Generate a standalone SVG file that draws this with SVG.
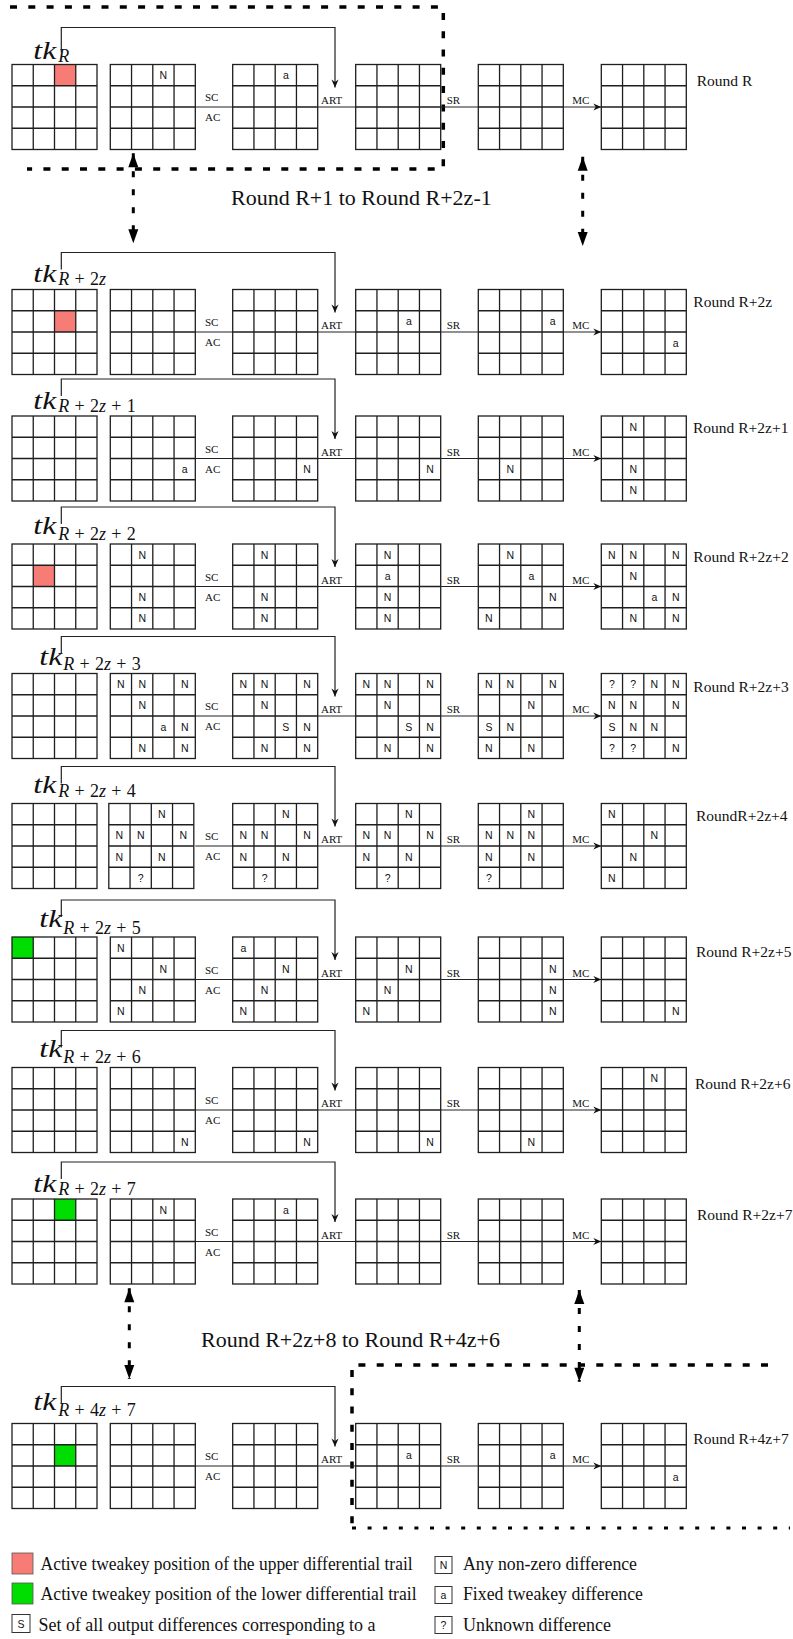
<svg xmlns="http://www.w3.org/2000/svg" width="793" height="1639" viewBox="0 0 793 1639">
<style>
.bg{fill:#fff}
.gl{fill:none;stroke:#1e1e1e;stroke-width:1.3}
.c{font-family:"Liberation Sans",Arial,sans-serif;font-size:10.5px;text-anchor:middle;fill:#111}
.op{font-family:"Liberation Serif","Times New Roman",serif;font-size:11px;fill:#111}
.opm{font-family:"Liberation Serif","Times New Roman",serif;font-size:11px;fill:#111;text-anchor:middle}
.rl{font-family:"Liberation Serif","Times New Roman",serif;font-size:15.5px;fill:#111}
.big{font-family:"Liberation Serif","Times New Roman",serif;font-size:22px;fill:#111}
.tk{font-family:"Liberation Serif","Times New Roman",serif;font-style:italic;font-size:25px;fill:#111}
.sub{font-family:"Liberation Serif","Times New Roman",serif;font-size:18px;fill:#111}
.it{font-style:italic}
.red{fill:#f87c76}
.grn{fill:#00dd00}
.arr{fill:none;stroke:#222;stroke-width:1.2;marker-end:url(#st)}
.tkl{fill:none;stroke:#222;stroke-width:1.2;marker-end:url(#st)}
.dash{fill:none;stroke:#000;stroke-width:3.5;stroke-dasharray:7 11.3}
.dot{fill:none;stroke:#000;stroke-width:3;stroke-dasharray:4 11.6}
.dv{fill:none;stroke:#000;stroke-width:3;stroke-dasharray:6 12;marker-start:url(#tri);marker-end:url(#tri)}
.lg{font-family:"Liberation Serif","Times New Roman",serif;font-size:18px;fill:#111}
.lbox{fill:#fff;stroke:#333;stroke-width:1}
.lsq{stroke:#555;stroke-width:0.8}
</style>
<defs>
<g id="grid"><rect class="gl" x="0" y="0" width="85" height="85"/><path class="gl" d="M21.25,0V85M42.5,0V85M63.75,0V85M0,21.25H85M0,42.5H85M0,63.75H85"/></g>
<marker id="st" viewBox="-9 -5 10 10" refX="0" refY="0" markerWidth="10" markerHeight="10" markerUnits="userSpaceOnUse" orient="auto"><path d="M0,0 L-8,-3.6 L-5.5,0 L-8,3.6 Z" fill="#111"/></marker>
<marker id="tri" viewBox="-15 -6 16 12" refX="0" refY="0" markerWidth="16" markerHeight="12" markerUnits="userSpaceOnUse" orient="auto-start-reverse"><path d="M-14,-5 L0,0 L-14,5 Z" fill="#000"/></marker>
</defs>
<rect class="bg" x="0" y="0" width="793" height="1639"/>

<!-- Row R -->
<g id="row-R">
<g id="R-tk"><text class="tk" x="33.3" y="59.3" textLength="23" lengthAdjust="spacingAndGlyphs">tk</text><text class="sub" x="58.3" y="62.3"><tspan class="it">R</tspan></text></g>
<g id="R-s1"><rect class="red" x="54.5" y="64.5" width="21.25" height="21.25"/><use href="#grid" x="12" y="64.5"/></g>
<g id="R-s2"><use href="#grid" x="110.3" y="64.5"/><text class="c" x="163.4" y="79.1">N</text></g>
<g id="R-s3"><use href="#grid" x="232.7" y="64.5"/><text class="c" x="285.8" y="79.1">a</text></g>
<g id="R-s4"><use href="#grid" x="355.7" y="64.5"/></g>
<g id="R-s5"><use href="#grid" x="478.3" y="64.5"/></g>
<g id="R-s6"><use href="#grid" x="601.3" y="64.5"/></g>
<text class="rl" x="696.7" y="85.5">Round R</text>
</g>

<!-- Row R+2z -->
<g id="row-R2z">
<g id="R2z-tk"><text class="tk" x="33.3" y="281.7" textLength="23" lengthAdjust="spacingAndGlyphs">tk</text><text class="sub" x="58.3" y="285"><tspan class="it">R</tspan><tspan dx="5.3">+</tspan><tspan dx="5.3">2</tspan><tspan class="it">z</tspan></text></g>
<g id="R2z-s1"><rect class="red" x="54.5" y="310.75" width="21.25" height="21.25"/><use href="#grid" x="12" y="289.5"/></g>
<g id="R2z-s2"><use href="#grid" x="110.3" y="289.5"/></g>
<g id="R2z-s3"><use href="#grid" x="232.7" y="289.5"/></g>
<g id="R2z-s4"><use href="#grid" x="355.7" y="289.5"/><text class="c" x="408.8" y="325.35">a</text></g>
<g id="R2z-s5"><use href="#grid" x="478.3" y="289.5"/><text class="c" x="552.7" y="325.35">a</text></g>
<g id="R2z-s6"><use href="#grid" x="601.3" y="289.5"/><text class="c" x="675.7" y="346.6">a</text></g>
<text class="rl" x="693.3" y="307">Round R+2z</text>
</g>

<!-- Row R+2z+1 -->
<g id="row-R2z1">
<g id="R2z1-tk"><text class="tk" x="33.3" y="408.5" textLength="23" lengthAdjust="spacingAndGlyphs">tk</text><text class="sub" x="58.3" y="412"><tspan class="it">R</tspan><tspan dx="5.3">+</tspan><tspan dx="5.3">2</tspan><tspan class="it">z</tspan><tspan dx="5.3">+</tspan><tspan dx="5.3">1</tspan></text></g>
<g id="R2z1-s1"><use href="#grid" x="12" y="416"/></g>
<g id="R2z1-s2"><use href="#grid" x="110.3" y="416"/><text class="c" x="184.7" y="473.1">a</text></g>
<g id="R2z1-s3"><use href="#grid" x="232.7" y="416"/><text class="c" x="307.1" y="473.1">N</text></g>
<g id="R2z1-s4"><use href="#grid" x="355.7" y="416"/><text class="c" x="430.1" y="473.1">N</text></g>
<g id="R2z1-s5"><use href="#grid" x="478.3" y="416"/><text class="c" x="510.2" y="473.1">N</text></g>
<g id="R2z1-s6"><use href="#grid" x="601.3" y="416"/><text class="c" x="633.2" y="430.6">N</text><text class="c" x="633.2" y="473.1">N</text><text class="c" x="633.2" y="494.35">N</text></g>
<text class="rl" x="693" y="433">Round R+2z+1</text>
</g>

<!-- Row R+2z+2 -->
<g id="row-R2z2">
<g id="R2z2-tk"><text class="tk" x="33.3" y="534.3" textLength="23" lengthAdjust="spacingAndGlyphs">tk</text><text class="sub" x="58.3" y="540"><tspan class="it">R</tspan><tspan dx="5.3">+</tspan><tspan dx="5.3">2</tspan><tspan class="it">z</tspan><tspan dx="5.3">+</tspan><tspan dx="5.3">2</tspan></text></g>
<g id="R2z2-s1"><rect class="red" x="33.25" y="565.25" width="21.25" height="21.25"/><use href="#grid" x="12" y="544"/></g>
<g id="R2z2-s2"><use href="#grid" x="110.3" y="544"/><text class="c" x="142.2" y="558.6">N</text><text class="c" x="142.2" y="601.1">N</text><text class="c" x="142.2" y="622.35">N</text></g>
<g id="R2z2-s3"><use href="#grid" x="232.7" y="544"/><text class="c" x="264.6" y="558.6">N</text><text class="c" x="264.6" y="601.1">N</text><text class="c" x="264.6" y="622.35">N</text></g>
<g id="R2z2-s4"><use href="#grid" x="355.7" y="544"/><text class="c" x="387.6" y="558.6">N</text><text class="c" x="387.6" y="579.85">a</text><text class="c" x="387.6" y="601.1">N</text><text class="c" x="387.6" y="622.35">N</text></g>
<g id="R2z2-s5"><use href="#grid" x="478.3" y="544"/><text class="c" x="510.2" y="558.6">N</text><text class="c" x="531.4" y="579.85">a</text><text class="c" x="552.7" y="601.1">N</text><text class="c" x="488.9" y="622.35">N</text></g>
<g id="R2z2-s6"><use href="#grid" x="601.3" y="544"/><text class="c" x="611.9" y="558.6">N</text><text class="c" x="633.2" y="558.6">N</text><text class="c" x="675.7" y="558.6">N</text><text class="c" x="633.2" y="579.85">N</text><text class="c" x="654.4" y="601.1">a</text><text class="c" x="675.7" y="601.1">N</text><text class="c" x="633.2" y="622.35">N</text><text class="c" x="675.7" y="622.35">N</text></g>
<text class="rl" x="693.3" y="562">Round R+2z+2</text>
</g>

<!-- Row R+2z+3 -->
<g id="row-R2z3">
<g id="R2z3-tk"><text class="tk" x="39.3" y="665" textLength="23" lengthAdjust="spacingAndGlyphs">tk</text><text class="sub" x="63.3" y="670"><tspan class="it">R</tspan><tspan dx="5.3">+</tspan><tspan dx="5.3">2</tspan><tspan class="it">z</tspan><tspan dx="5.3">+</tspan><tspan dx="5.3">3</tspan></text></g>
<g id="R2z3-s1"><use href="#grid" x="12" y="673.5"/></g>
<g id="R2z3-s2"><use href="#grid" x="110.3" y="673.5"/><text class="c" x="120.9" y="688.1">N</text><text class="c" x="142.2" y="688.1">N</text><text class="c" x="184.7" y="688.1">N</text><text class="c" x="142.2" y="709.35">N</text><text class="c" x="163.4" y="730.6">a</text><text class="c" x="184.7" y="730.6">N</text><text class="c" x="142.2" y="751.85">N</text><text class="c" x="184.7" y="751.85">N</text></g>
<g id="R2z3-s3"><use href="#grid" x="232.7" y="673.5"/><text class="c" x="243.3" y="688.1">N</text><text class="c" x="264.6" y="688.1">N</text><text class="c" x="307.1" y="688.1">N</text><text class="c" x="264.6" y="709.35">N</text><text class="c" x="285.8" y="730.6">S</text><text class="c" x="307.1" y="730.6">N</text><text class="c" x="264.6" y="751.85">N</text><text class="c" x="307.1" y="751.85">N</text></g>
<g id="R2z3-s4"><use href="#grid" x="355.7" y="673.5"/><text class="c" x="366.3" y="688.1">N</text><text class="c" x="387.6" y="688.1">N</text><text class="c" x="430.1" y="688.1">N</text><text class="c" x="387.6" y="709.35">N</text><text class="c" x="408.8" y="730.6">S</text><text class="c" x="430.1" y="730.6">N</text><text class="c" x="387.6" y="751.85">N</text><text class="c" x="430.1" y="751.85">N</text></g>
<g id="R2z3-s5"><use href="#grid" x="478.3" y="673.5"/><text class="c" x="488.9" y="688.1">N</text><text class="c" x="510.2" y="688.1">N</text><text class="c" x="552.7" y="688.1">N</text><text class="c" x="531.4" y="709.35">N</text><text class="c" x="488.9" y="730.6">S</text><text class="c" x="510.2" y="730.6">N</text><text class="c" x="488.9" y="751.85">N</text><text class="c" x="531.4" y="751.85">N</text></g>
<g id="R2z3-s6"><use href="#grid" x="601.3" y="673.5"/><text class="c" x="611.9" y="688.1">?</text><text class="c" x="633.2" y="688.1">?</text><text class="c" x="654.4" y="688.1">N</text><text class="c" x="675.7" y="688.1">N</text><text class="c" x="611.9" y="709.35">N</text><text class="c" x="633.2" y="709.35">N</text><text class="c" x="675.7" y="709.35">N</text><text class="c" x="611.9" y="730.6">S</text><text class="c" x="633.2" y="730.6">N</text><text class="c" x="654.4" y="730.6">N</text><text class="c" x="611.9" y="751.85">?</text><text class="c" x="633.2" y="751.85">?</text><text class="c" x="675.7" y="751.85">N</text></g>
<text class="rl" x="693.3" y="691.5">Round R+2z+3</text>
</g>

<!-- Row R+2z+4 -->
<g id="row-R2z4">
<g id="R2z4-tk"><text class="tk" x="33.3" y="793.3" textLength="23" lengthAdjust="spacingAndGlyphs">tk</text><text class="sub" x="58.3" y="797.3"><tspan class="it">R</tspan><tspan dx="5.3">+</tspan><tspan dx="5.3">2</tspan><tspan class="it">z</tspan><tspan dx="5.3">+</tspan><tspan dx="5.3">4</tspan></text></g>
<g id="R2z4-s1"><use href="#grid" x="12" y="803.5"/></g>
<g id="R2z4-s2"><use href="#grid" x="108.8" y="803.5"/><text class="c" x="161.9" y="818.1">N</text><text class="c" x="119.4" y="839.35">N</text><text class="c" x="140.7" y="839.35">N</text><text class="c" x="183.2" y="839.35">N</text><text class="c" x="119.4" y="860.6">N</text><text class="c" x="161.9" y="860.6">N</text><text class="c" x="140.7" y="881.85">?</text></g>
<g id="R2z4-s3"><use href="#grid" x="232.7" y="803.5"/><text class="c" x="285.8" y="818.1">N</text><text class="c" x="243.3" y="839.35">N</text><text class="c" x="264.6" y="839.35">N</text><text class="c" x="307.1" y="839.35">N</text><text class="c" x="243.3" y="860.6">N</text><text class="c" x="285.8" y="860.6">N</text><text class="c" x="264.6" y="881.85">?</text></g>
<g id="R2z4-s4"><use href="#grid" x="355.7" y="803.5"/><text class="c" x="408.8" y="818.1">N</text><text class="c" x="366.3" y="839.35">N</text><text class="c" x="387.6" y="839.35">N</text><text class="c" x="430.1" y="839.35">N</text><text class="c" x="366.3" y="860.6">N</text><text class="c" x="408.8" y="860.6">N</text><text class="c" x="387.6" y="881.85">?</text></g>
<g id="R2z4-s5"><use href="#grid" x="478.3" y="803.5"/><text class="c" x="531.4" y="818.1">N</text><text class="c" x="488.9" y="839.35">N</text><text class="c" x="510.2" y="839.35">N</text><text class="c" x="531.4" y="839.35">N</text><text class="c" x="488.9" y="860.6">N</text><text class="c" x="531.4" y="860.6">N</text><text class="c" x="488.9" y="881.85">?</text></g>
<g id="R2z4-s6"><use href="#grid" x="601.3" y="803.5"/><text class="c" x="611.9" y="818.1">N</text><text class="c" x="654.4" y="839.35">N</text><text class="c" x="633.2" y="860.6">N</text><text class="c" x="611.9" y="881.85">N</text></g>
<text class="rl" x="696" y="820.5">RoundR+2z+4</text>
</g>

<!-- Row R+2z+5 -->
<g id="row-R2z5">
<g id="R2z5-tk"><text class="tk" x="39.3" y="926.7" textLength="23" lengthAdjust="spacingAndGlyphs">tk</text><text class="sub" x="63.3" y="934"><tspan class="it">R</tspan><tspan dx="5.3">+</tspan><tspan dx="5.3">2</tspan><tspan class="it">z</tspan><tspan dx="5.3">+</tspan><tspan dx="5.3">5</tspan></text></g>
<g id="R2z5-s1"><rect class="grn" x="12" y="937" width="21.25" height="21.25"/><use href="#grid" x="12" y="937"/></g>
<g id="R2z5-s2"><use href="#grid" x="110.3" y="937"/><text class="c" x="120.9" y="951.6">N</text><text class="c" x="163.4" y="972.85">N</text><text class="c" x="142.2" y="994.1">N</text><text class="c" x="120.9" y="1015.35">N</text></g>
<g id="R2z5-s3"><use href="#grid" x="232.7" y="937"/><text class="c" x="243.3" y="951.6">a</text><text class="c" x="285.8" y="972.85">N</text><text class="c" x="264.6" y="994.1">N</text><text class="c" x="243.3" y="1015.35">N</text></g>
<g id="R2z5-s4"><use href="#grid" x="355.7" y="937"/><text class="c" x="408.8" y="972.85">N</text><text class="c" x="387.6" y="994.1">N</text><text class="c" x="366.3" y="1015.35">N</text></g>
<g id="R2z5-s5"><use href="#grid" x="478.3" y="937"/><text class="c" x="552.7" y="972.85">N</text><text class="c" x="552.7" y="994.1">N</text><text class="c" x="552.7" y="1015.35">N</text></g>
<g id="R2z5-s6"><use href="#grid" x="601.3" y="937"/><text class="c" x="675.7" y="1015.35">N</text></g>
<text class="rl" x="696" y="957">Round R+2z+5</text>
</g>

<!-- Row R+2z+6 -->
<g id="row-R2z6">
<g id="R2z6-tk"><text class="tk" x="39.3" y="1056.7" textLength="23" lengthAdjust="spacingAndGlyphs">tk</text><text class="sub" x="63.3" y="1063.3"><tspan class="it">R</tspan><tspan dx="5.3">+</tspan><tspan dx="5.3">2</tspan><tspan class="it">z</tspan><tspan dx="5.3">+</tspan><tspan dx="5.3">6</tspan></text></g>
<g id="R2z6-s1"><use href="#grid" x="12" y="1067.5"/></g>
<g id="R2z6-s2"><use href="#grid" x="110.3" y="1067.5"/><text class="c" x="184.7" y="1145.85">N</text></g>
<g id="R2z6-s3"><use href="#grid" x="232.7" y="1067.5"/><text class="c" x="307.1" y="1145.85">N</text></g>
<g id="R2z6-s4"><use href="#grid" x="355.7" y="1067.5"/><text class="c" x="430.1" y="1145.85">N</text></g>
<g id="R2z6-s5"><use href="#grid" x="478.3" y="1067.5"/><text class="c" x="531.4" y="1145.85">N</text></g>
<g id="R2z6-s6"><use href="#grid" x="601.3" y="1067.5"/><text class="c" x="654.4" y="1082.1">N</text></g>
<text class="rl" x="695" y="1089">Round R+2z+6</text>
</g>

<!-- Row R+2z+7 -->
<g id="row-R2z7">
<g id="R2z7-tk"><text class="tk" x="33.3" y="1191.7" textLength="23" lengthAdjust="spacingAndGlyphs">tk</text><text class="sub" x="58.3" y="1195"><tspan class="it">R</tspan><tspan dx="5.3">+</tspan><tspan dx="5.3">2</tspan><tspan class="it">z</tspan><tspan dx="5.3">+</tspan><tspan dx="5.3">7</tspan></text></g>
<g id="R2z7-s1"><rect class="grn" x="54.5" y="1199" width="21.25" height="21.25"/><use href="#grid" x="12" y="1199"/></g>
<g id="R2z7-s2"><use href="#grid" x="110.3" y="1199"/><text class="c" x="163.4" y="1213.6">N</text></g>
<g id="R2z7-s3"><use href="#grid" x="232.7" y="1199"/><text class="c" x="285.8" y="1213.6">a</text></g>
<g id="R2z7-s4"><use href="#grid" x="355.7" y="1199"/></g>
<g id="R2z7-s5"><use href="#grid" x="478.3" y="1199"/></g>
<g id="R2z7-s6"><use href="#grid" x="601.3" y="1199"/></g>
<text class="rl" x="697" y="1219.5">Round R+2z+7</text>
</g>

<!-- Row R+4z+7 -->
<g id="row-R4z7">
<g id="R4z7-tk"><text class="tk" x="33.3" y="1410" textLength="23" lengthAdjust="spacingAndGlyphs">tk</text><text class="sub" x="58.3" y="1415.7"><tspan class="it">R</tspan><tspan dx="5.3">+</tspan><tspan dx="5.3">4</tspan><tspan class="it">z</tspan><tspan dx="5.3">+</tspan><tspan dx="5.3">7</tspan></text></g>
<g id="R4z7-s1"><rect class="grn" x="54.5" y="1444.75" width="21.25" height="21.25"/><use href="#grid" x="12" y="1423.5"/></g>
<g id="R4z7-s2"><use href="#grid" x="110.3" y="1423.5"/></g>
<g id="R4z7-s3"><use href="#grid" x="232.7" y="1423.5"/></g>
<g id="R4z7-s4"><use href="#grid" x="355.7" y="1423.5"/><text class="c" x="408.8" y="1459.35">a</text></g>
<g id="R4z7-s5"><use href="#grid" x="478.3" y="1423.5"/><text class="c" x="552.7" y="1459.35">a</text></g>
<g id="R4z7-s6"><use href="#grid" x="601.3" y="1423.5"/><text class="c" x="675.7" y="1480.6">a</text></g>
<text class="rl" x="693.3" y="1444">Round R+4z+7</text>
</g>

<!-- Range labels -->
<text class="big" x="231" y="205">Round R+1 to Round R+2z-1</text>
<text class="big" x="201" y="1346.7">Round R+2z+8 to Round R+4z+6</text>

<!-- Connectors -->
<g id="connectors">
<path class="dash" d="M10,7 H443.3 V169 H27"/>
<path class="dash" d="M768,1365 H352 V1528"/>
<path class="dot" d="M352,1528 H790"/>
<line class="dv" x1="133.3" y1="153.3" x2="133.3" y2="243.3"/>
<line class="dv" x1="582.7" y1="156.7" x2="582.7" y2="246"/>
<line class="dv" x1="129.3" y1="1288.3" x2="129.3" y2="1379"/>
<line class="dv" x1="579.3" y1="1290" x2="579.3" y2="1381.7"/>

<path class="tkl" d="M61.3,52.5 V27.5 H335 V87.5"/>
<path class="tkl" d="M61.3,269.5 V252.5 H335 V312.5"/>
<path class="tkl" d="M61.3,396 V379 H335 V439"/>
<path class="tkl" d="M61.3,524 V507 H335 V567"/>
<path class="tkl" d="M61.3,653.5 V636.5 H335 V696.5"/>
<path class="tkl" d="M61.3,783.5 V766.5 H335 V826.5"/>
<path class="tkl" d="M61.3,917 V900 H335 V960"/>
<path class="tkl" d="M61.3,1047.5 V1030.5 H335 V1090.5"/>
<path class="tkl" d="M61.3,1179 V1162 H335 V1222"/>
<path class="tkl" d="M61.3,1403.5 V1386.5 H335 V1446.5"/>

<path class="arr" d="M195.3,107 H232.7 M317.7,107 H355.7 M440.7,107 H478.3 M563.3,107 H601.3"/>
<path class="arr" d="M195.3,332 H232.7 M317.7,332 H355.7 M440.7,332 H478.3 M563.3,332 H601.3"/>
<path class="arr" d="M195.3,458.5 H232.7 M317.7,458.5 H355.7 M440.7,458.5 H478.3 M563.3,458.5 H601.3"/>
<path class="arr" d="M195.3,586.5 H232.7 M317.7,586.5 H355.7 M440.7,586.5 H478.3 M563.3,586.5 H601.3"/>
<path class="arr" d="M195.3,716 H232.7 M317.7,716 H355.7 M440.7,716 H478.3 M563.3,716 H601.3"/>
<path class="arr" d="M195.3,846 H232.7 M317.7,846 H355.7 M440.7,846 H478.3 M563.3,846 H601.3"/>
<path class="arr" d="M195.3,979.5 H232.7 M317.7,979.5 H355.7 M440.7,979.5 H478.3 M563.3,979.5 H601.3"/>
<path class="arr" d="M195.3,1110 H232.7 M317.7,1110 H355.7 M440.7,1110 H478.3 M563.3,1110 H601.3"/>
<path class="arr" d="M195.3,1241.5 H232.7 M317.7,1241.5 H355.7 M440.7,1241.5 H478.3 M563.3,1241.5 H601.3"/>
<path class="arr" d="M195.3,1466 H232.7 M317.7,1466 H355.7 M440.7,1466 H478.3 M563.3,1466 H601.3"/>

<g id="oplabels">
<text class="opm" x="211.7" y="101">SC</text><text class="opm" x="212.7" y="121.2">AC</text><text class="op" x="321" y="104">ART</text><text class="op" x="446.7" y="104">SR</text><text class="op" x="572.3" y="104">MC</text>
<text class="opm" x="211.7" y="326">SC</text><text class="opm" x="212.7" y="346.2">AC</text><text class="op" x="321" y="329">ART</text><text class="op" x="446.7" y="329">SR</text><text class="op" x="572.3" y="329">MC</text>
<text class="opm" x="211.7" y="452.5">SC</text><text class="opm" x="212.7" y="472.7">AC</text><text class="op" x="321" y="455.5">ART</text><text class="op" x="446.7" y="455.5">SR</text><text class="op" x="572.3" y="455.5">MC</text>
<text class="opm" x="211.7" y="580.5">SC</text><text class="opm" x="212.7" y="600.7">AC</text><text class="op" x="321" y="583.5">ART</text><text class="op" x="446.7" y="583.5">SR</text><text class="op" x="572.3" y="583.5">MC</text>
<text class="opm" x="211.7" y="710">SC</text><text class="opm" x="212.7" y="730.2">AC</text><text class="op" x="321" y="713">ART</text><text class="op" x="446.7" y="713">SR</text><text class="op" x="572.3" y="713">MC</text>
<text class="opm" x="211.7" y="840">SC</text><text class="opm" x="212.7" y="860.2">AC</text><text class="op" x="321" y="843">ART</text><text class="op" x="446.7" y="843">SR</text><text class="op" x="572.3" y="843">MC</text>
<text class="opm" x="211.7" y="973.5">SC</text><text class="opm" x="212.7" y="993.7">AC</text><text class="op" x="321" y="976.5">ART</text><text class="op" x="446.7" y="976.5">SR</text><text class="op" x="572.3" y="976.5">MC</text>
<text class="opm" x="211.7" y="1104">SC</text><text class="opm" x="212.7" y="1124.2">AC</text><text class="op" x="321" y="1107">ART</text><text class="op" x="446.7" y="1107">SR</text><text class="op" x="572.3" y="1107">MC</text>
<text class="opm" x="211.7" y="1235.5">SC</text><text class="opm" x="212.7" y="1255.7">AC</text><text class="op" x="321" y="1238.5">ART</text><text class="op" x="446.7" y="1238.5">SR</text><text class="op" x="572.3" y="1238.5">MC</text>
<text class="opm" x="211.7" y="1460">SC</text><text class="opm" x="212.7" y="1480.2">AC</text><text class="op" x="321" y="1463">ART</text><text class="op" x="446.7" y="1463">SR</text><text class="op" x="572.3" y="1463">MC</text>
</g>
</g>

<!-- Legend -->
<g id="legend">
<rect class="red lsq" x="12" y="1553" width="21" height="21"/>
<text class="lg" x="40.6" y="1569.5" textLength="372" lengthAdjust="spacingAndGlyphs">Active tweakey position of the upper differential trail</text>
<rect class="grn lsq" x="12" y="1583" width="21" height="21"/>
<text class="lg" x="40.6" y="1600" textLength="376" lengthAdjust="spacingAndGlyphs">Active tweakey position of the lower differential trail</text>
<rect class="lbox" x="12" y="1614.5" width="18" height="18"/><text class="c" x="21" y="1627.5">S</text>
<text class="lg" x="38.5" y="1631" textLength="337" lengthAdjust="spacingAndGlyphs">Set of all output differences corresponding to a</text>
<rect class="lbox" x="435" y="1556.5" width="17" height="17"/><text class="c" x="443.5" y="1569">N</text>
<text class="lg" x="463" y="1569.5" textLength="174" lengthAdjust="spacingAndGlyphs">Any non-zero difference</text>
<rect class="lbox" x="435" y="1586.5" width="17" height="17"/><text class="c" x="443.5" y="1599">a</text>
<text class="lg" x="463" y="1600" textLength="180" lengthAdjust="spacingAndGlyphs">Fixed tweakey difference</text>
<rect class="lbox" x="435" y="1616.5" width="17" height="17"/><text class="c" x="443.5" y="1629">?</text>
<text class="lg" x="463" y="1631" textLength="148" lengthAdjust="spacingAndGlyphs">Unknown difference</text>
</g>
</svg>
